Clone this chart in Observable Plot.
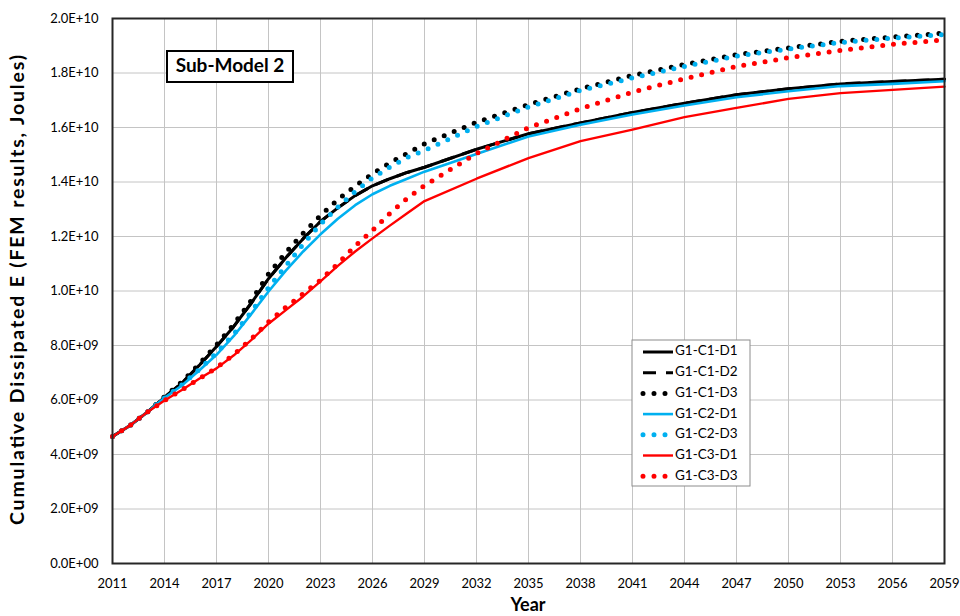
<!DOCTYPE html>
<html><head><meta charset="utf-8">
<script src="https://cdn.jsdelivr.net/npm/d3@7"></script>
<script src="https://cdn.jsdelivr.net/npm/@observablehq/plot@0.6"></script>
<style>
html,body{margin:0;padding:0;background:#fff;}
#chart{position:relative;width:960px;height:616px;}
</style></head><body><div id="chart"></div>
<script>
// ---- data (values in units of 1E+09 Joules) ----
const years = [2011,2012,2013,2014,2015,2016,2017,2018,2019,2020,2021,2022,2023,2024,2025,2026,2027,2028,2029,2032,2035,2038,2041,2044,2047,2050,2053,2056,2059];
const seriesNames = ["G1-C1-D1","G1-C1-D2","G1-C1-D3","G1-C2-D1","G1-C2-D3","G1-C3-D1","G1-C3-D3"];
const c1d1 = [4.66,5.06,5.55,6.10,6.62,7.27,7.96,8.70,9.55,10.45,11.22,11.92,12.55,13.05,13.50,13.86,14.12,14.35,14.54,15.20,15.77,16.17,16.55,16.89,17.20,17.42,17.60,17.69,17.77];
const c1d2 = [4.66,5.06,5.55,6.10,6.62,7.27,7.96,8.70,9.55,10.45,11.22,11.92,12.55,13.05,13.50,13.86,14.12,14.35,14.54,15.20,15.77,16.17,16.55,16.89,17.20,17.42,17.60,17.69,17.77];
const c1d3 = [4.66,5.06,5.55,6.12,6.66,7.32,8.02,8.78,9.65,10.62,11.42,12.12,12.77,13.35,13.85,14.30,14.70,15.05,15.40,16.19,16.84,17.42,17.91,18.31,18.67,18.92,19.16,19.32,19.46];
const c2d1 = [4.66,5.06,5.55,6.08,6.53,7.08,7.66,8.35,9.15,9.98,10.75,11.45,12.08,12.65,13.15,13.55,13.86,14.12,14.38,15.03,15.67,16.10,16.48,16.81,17.11,17.33,17.52,17.60,17.70];
const c2d3 = [4.66,5.06,5.55,6.08,6.55,7.12,7.72,8.42,9.22,10.12,10.92,11.72,12.45,13.08,13.65,14.15,14.55,14.90,15.16,16.04,16.75,17.36,17.82,18.24,18.62,18.88,19.12,19.28,19.41];
const c3d1 = [4.66,5.06,5.55,5.98,6.37,6.78,7.16,7.64,8.20,8.80,9.30,9.80,10.35,10.92,11.45,11.93,12.40,12.85,13.30,14.12,14.88,15.50,15.92,16.38,16.72,17.05,17.26,17.38,17.50];
const c3d3 = [4.66,5.06,5.55,5.98,6.37,6.78,7.18,7.67,8.24,8.86,9.40,9.90,10.40,11.00,11.65,12.22,12.85,13.40,13.87,15.05,15.99,16.69,17.30,17.79,18.24,18.56,18.83,19.05,19.22];
const xTicks = [2011,2014,2017,2020,2023,2026,2029,2032,2035,2038,2041,2044,2047,2050,2053,2056,2059];
const yTicks = [0,2e9,4e9,6e9,8e9,1e10,1.2e10,1.4e10,1.6e10,1.8e10,2e10];
const titleText = "Sub-Model 2";
const xLabel = "Year";
const yLabel = "Cumulative Dissipated E (FEM results, Joules)";

// ---- styles ----
const BLUE = "#00b0f0", RED = "#ff0000";
const dot = {strokeWidth: 5, strokeDasharray: "0,10.8", strokeLinecap: "round"};
const styles = {
  "G1-C1-D1": {stroke: "#000", strokeWidth: 3},
  "G1-C1-D2": {stroke: "#000", strokeWidth: 3, strokeDasharray: "13,10"},
  "G1-C1-D3": {stroke: "#000", ...dot},
  "G1-C2-D1": {stroke: BLUE, strokeWidth: 2.6},
  "G1-C2-D3": {stroke: BLUE, ...dot},
  "G1-C3-D1": {stroke: RED, strokeWidth: 2.4},
  "G1-C3-D3": {stroke: RED, ...dot}
};
const seriesValues = [c1d1, c1d2, c1d3, c2d1, c2d3, c3d1, c3d3];
const rows = seriesNames.flatMap((s, i) => years.map((yr, j) => ({series: s, year: yr, value: seriesValues[i][j] * 1e9})));

function sci(d) {
  if (d === 0) return "0.0E+00";
  const e = Math.floor(Math.log10(d) + 1e-9);
  const m = d / Math.pow(10, e);
  return m.toFixed(1) + "E+" + String(e).padStart(2, "0");
}

const plot = Plot.plot({
  width: 960, height: 616,
  marginLeft: 112, marginRight: 16, marginTop: 18, marginBottom: 53,
  style: {fontFamily: "Lato, 'Open Sans', sans-serif", fontSize: "13px", color: "#000", background: "#fff"},
  x: {domain: [2011, 2059]},
  y: {domain: [0, 2e10]},
  marks: [
    Plot.gridX(xTicks, {stroke: "#c4c4c4", strokeOpacity: 1, strokeWidth: 1}),
    Plot.gridY(yTicks, {stroke: "#c4c4c4", strokeOpacity: 1, strokeWidth: 1}),
    ...seriesNames.map(s => Plot.line(rows.filter(r => r.series === s), {x: "year", y: "value", ...styles[s]})),
    Plot.frame({stroke: "#262626", strokeWidth: 2}),
    Plot.axisX(xTicks, {tickSize: 0, tickPadding: 15, tickFormat: d => String(d), label: null, fontSize: 13}),
    Plot.axisY(yTicks, {tickSize: 0, tickPadding: 14, tickFormat: sci, label: null, fontSize: 13})
  ]
});
document.getElementById("chart").appendChild(plot);

const svg = d3.select(plot);
const font = "Lato, 'Open Sans', sans-serif";
// axis titles
svg.append("text").attr("x", 528).attr("y", 606).attr("text-anchor", "middle").attr("dominant-baseline", "middle")
  .attr("font-family", font).attr("font-weight", "bold").attr("font-size", 18).attr("fill", "#000").text(xLabel);
svg.append("text").attr("transform", "translate(19,290) rotate(-90)").attr("text-anchor", "middle").attr("dominant-baseline", "middle")
  .attr("font-family", font).attr("font-weight", "bold").attr("font-size", 19.5)
  .attr("textLength", 470).attr("lengthAdjust", "spacing").attr("fill", "#000").text(yLabel);

// title box
const tb = svg.append("g").attr("transform", "translate(167,51)");
tb.append("rect").attr("width", 126).attr("height", 31).attr("fill", "#fff").attr("stroke", "#000").attr("stroke-width", 2);
tb.append("text").attr("x", 63).attr("y", 16.5).attr("text-anchor", "middle").attr("dominant-baseline", "middle")
  .attr("font-family", font).attr("font-weight", "bold").attr("font-size", 19).attr("fill", "#000").text(titleText);

// legend
const lg = svg.append("g").attr("transform", "translate(632,340)");
lg.append("rect").attr("width", 118).attr("height", 146).attr("fill", "#fff").attr("stroke", "#8c8c8c").attr("stroke-width", 1);
seriesNames.forEach((s, i) => {
  const y = 12 + i * 20.7;
  const st = styles[s];
  lg.append("line").attr("x1", 11).attr("x2", 41).attr("y1", y).attr("y2", y)
    .attr("stroke", st.stroke).attr("stroke-width", st.strokeWidth)
    .attr("stroke-dasharray", st.strokeDasharray === "0,10.8" ? "0,11" : (st.strokeDasharray || null))
    .attr("stroke-linecap", st.strokeLinecap || "butt");
  lg.append("text").attr("x", 43).attr("y", y).attr("text-anchor", "start").attr("dominant-baseline", "middle")
    .attr("font-family", font).attr("font-size", 13.5).attr("fill", "#000").text(s);
});
</script></body></html>
